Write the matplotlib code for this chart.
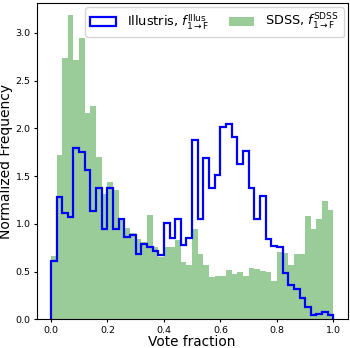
import numpy as np
import matplotlib
matplotlib.use("Agg")
import matplotlib.pyplot as plt

# Normalized frequency per bin (50 bins of width 0.02 from 0 to 1)
sdss = [0.66, 1.72, 2.74, 3.19, 2.72, 2.94, 2.16, 2.23, 1.70, 1.31,
        1.44, 1.35, 1.05, 0.96, 0.90, 0.84, 0.81, 1.09, 0.76, 0.65,
        0.76, 0.76, 0.83, 0.60, 0.57, 0.95, 0.68, 0.57, 0.44, 0.46,
        0.46, 0.52, 0.48, 0.50, 0.46, 0.54, 0.53, 0.51, 0.50, 0.40,
        0.71, 0.70, 0.57, 0.69, 0.69, 1.08, 0.95, 1.05, 1.24, 1.15]
illustris = [0.61, 1.28, 1.11, 1.07, 1.79, 1.75, 1.56, 1.14, 1.38, 0.95,
             1.38, 0.95, 1.05, 0.86, 0.88, 0.69, 0.79, 0.76, 0.72, 0.67,
             1.01, 0.85, 1.05, 0.78, 0.85, 1.88, 1.05, 1.69, 1.38, 1.51,
             2.01, 2.05, 1.91, 1.63, 1.76, 1.38, 1.05, 1.29, 0.84, 0.77,
             0.76, 0.49, 0.36, 0.32, 0.22, 0.13, 0.05, 0.06, 0.08, 0.05]
edges = np.linspace(0.0, 1.0, 51)
centers = 0.5 * (edges[:-1] + edges[1:])

fig = plt.figure(figsize=(3.5, 3.48), dpi=100)
ax = fig.add_axes([0.105, 0.082, 0.888, 0.909])

ax.hist(centers, bins=edges, weights=illustris, histtype='step',
        color='blue', linewidth=1.6,
        label=r'Illustris, $f_{\rm 1\rightarrow F}^{\rm Illus}$')
ax.hist(centers, bins=edges, weights=sdss, histtype='stepfilled',
        color='green', alpha=0.4,
        label=r'SDSS, $f_{\rm 1\rightarrow F}^{\rm SDSS}$')

ax.set_xlim(-0.05, 1.05)
ax.set_ylim(0, 3.31)
ax.set_xticks([0.0, 0.2, 0.4, 0.6, 0.8, 1.0])
ax.set_yticks([0.0, 0.5, 1.0, 1.5, 2.0, 2.5, 3.0])
ax.tick_params(labelsize=6.8, length=2.5, pad=2)
ax.set_xlabel('Vote fraction', fontsize=9.8, labelpad=0)
ax.set_ylabel('Normalized Frequency', fontsize=10, labelpad=1.5)
ax.legend(loc='upper right', ncol=2, fontsize=9.3, columnspacing=1.5,
          handlelength=2.0, borderaxespad=0.3)

fig.savefig('out.png', dpi=100)
